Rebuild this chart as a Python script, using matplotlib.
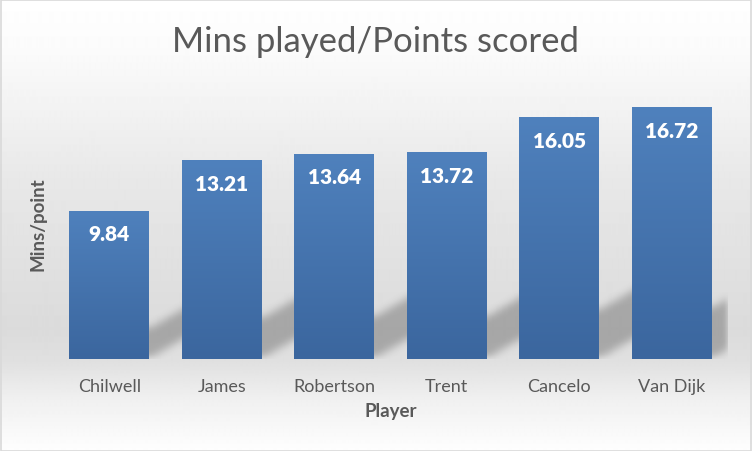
import numpy as np
import matplotlib
matplotlib.use('Agg')
import matplotlib.pyplot as plt
from matplotlib.path import Path
from matplotlib.patches import Rectangle

# datos del grafico
players = ['Chilwell', 'James', 'Robertson', 'Trent', 'Cancelo', 'Van Dijk']
mins_per_point = [9.84, 13.21, 13.64, 13.72, 16.05, 16.72]
title = 'Mins played/Points scored'
x_title = 'Player'
y_title = 'Mins/point'

plt.rcParams['font.family'] = ['Lato', 'DejaVu Sans']

W, H = 752, 452
fig = plt.figure(figsize=(W / 100, H / 100), dpi=100)

# fondo con degradado (blanco arriba, gris en medio, blanco abajo)
bg = fig.add_axes([0, 0, 1, 1], zorder=-2)
rows = np.arange(H)
shade = np.interp(rows, [0, 50, 180, 330, 362, 400, 452],
                  [255, 251, 232, 219, 224, 240, 254]) / 255
bg.imshow(np.repeat(shade[:, None], 2, axis=1), cmap='gray', vmin=0, vmax=1,
          aspect='auto', extent=(0, 1, 0, 1), interpolation='bilinear')
bg.set_xlim(0, 1)
bg.set_ylim(0, 1)
bg.axis('off')
fig.patches.append(Rectangle((0.5 / W, 0.5 / H), 1 - 1.5 / W, 1 - 1.5 / H,
                             transform=fig.transFigure, fill=False,
                             edgecolor='#d9d9d9', linewidth=1.2))

# area del grafico en pixeles
left, right, bottom, top = 53, 728, 360, 89
ax = fig.add_axes([left / W, (H - bottom) / H, (right - left) / W, (bottom - top) / H])
ax.set_facecolor('none')
ymax = 18
xlim = (-0.5, len(players) - 0.5)
ax.set_xlim(*xlim)
ax.set_ylim(0, ymax)
px_x = (xlim[1] - xlim[0]) / (right - left)
px_y = ymax / (bottom - top)
width = 0.711

# sombra difusa detras de cada barra
ny, nx = bottom - top, right - left
gx, gy = np.meshgrid(np.arange(nx) + 0.5, np.arange(ny) + 0.5)
pts = np.column_stack([gx.ravel(), gy.ravel()])
mask = np.zeros(nx * ny)
for i, v in enumerate(mins_per_point):
    x1 = (i + width / 2 - xlim[0]) / px_x
    h = v / px_y
    t = 0.2 * h
    L = 50
    poly = [(x1 - 30, 0), (x1, 0), (x1 + L, 0.58 * L), (x1 + L, 0.58 * L + t),
            (x1, t), (x1 - 30, t)]
    mask = np.maximum(mask, Path(poly).contains_points(pts).astype(float))
mask = mask.reshape(ny, nx)
k = np.ones(8) / 8
for _ in range(3):
    mask = np.apply_along_axis(lambda r: np.convolve(r, k, mode='same'), 1, mask)
    mask = np.apply_along_axis(lambda c: np.convolve(c, k, mode='same'), 0, mask)
rgba = np.zeros((ny, nx, 4))
rgba[..., :3] = 0.25
rgba[..., 3] = mask * 0.34
ax.imshow(rgba, origin='lower', extent=(xlim[0], xlim[1], 0, ymax),
          aspect='auto', zorder=1, interpolation='bilinear')

# barras con degradado azul
bars = ax.bar(range(len(players)), mins_per_point, width=width,
              color='#4a7ab5', zorder=2)
grad = np.linspace(0, 1, 256)[:, None]
cmap = matplotlib.colors.LinearSegmentedColormap.from_list('azul', ['#3b669e', '#4f81bd'])
for b in bars:
    x0 = b.get_x()
    im = ax.imshow(grad, cmap=cmap, origin='lower', aspect='auto',
                   extent=(x0, x0 + b.get_width(), 0, b.get_height()), zorder=3)
    im.set_clip_path(b)
ax.set_xlim(*xlim)
ax.set_ylim(0, ymax)

for i, v in enumerate(mins_per_point):
    ax.text(i, v - 23 * px_y, f'{v:.2f}', ha='center', va='center',
            color='white', fontsize=15, fontweight='heavy', zorder=4)

ax.set_xticks(range(len(players)), players)
ax.tick_params(axis='x', length=0, pad=14, labelsize=13, labelcolor='#595959')
ax.set_yticks([])
for s in ax.spines.values():
    s.set_visible(False)

ax.set_xlabel(x_title, fontsize=13.5, fontweight='bold', color='#595959')
ax.xaxis.set_label_coords(0.5, -(403 - bottom) / ny, transform=ax.transAxes)
ax.set_ylabel(y_title, fontsize=13.5, fontweight='bold', color='#595959')
ax.yaxis.set_label_coords(-(left - 47) / nx, 0.5, transform=ax.transAxes)

fig.text(0.5 + (376 - W / 2) / W, 1 - 42 / H, title, ha='center', va='center',
         fontsize=25, color='#595959')

fig.savefig('out.png', dpi=100)
